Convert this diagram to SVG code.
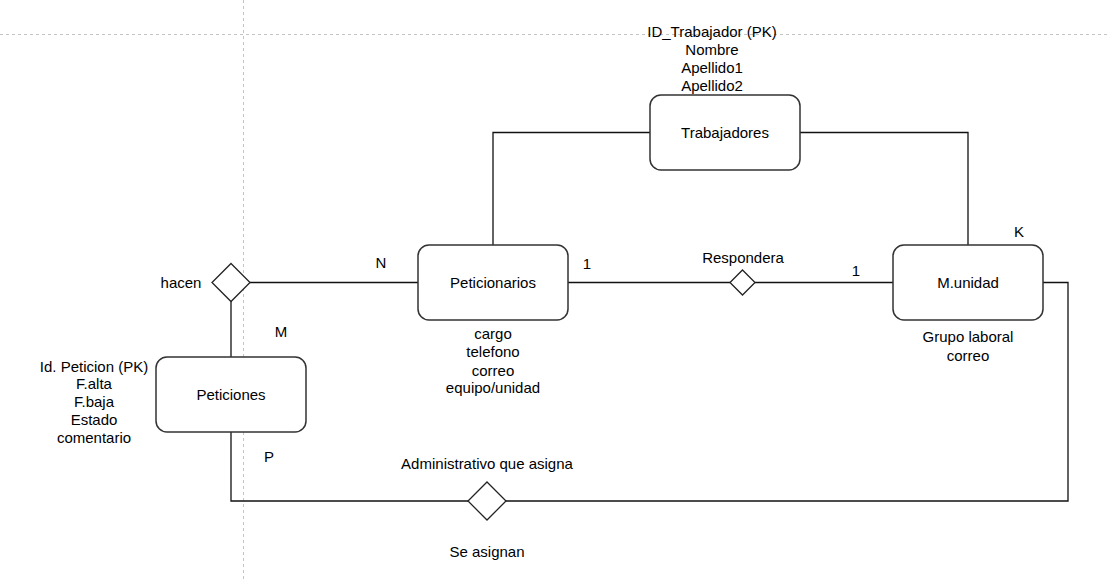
<svg xmlns="http://www.w3.org/2000/svg" width="1110" height="579" viewBox="0 0 1110 579">
<style>
text{font-family:"Liberation Sans",Arial,sans-serif;font-size:15px;fill:#000;text-anchor:middle;dominant-baseline:central}
.ent{fill:#fff;stroke:#333;stroke-width:1.5}
.rel{fill:#fff;stroke:#222;stroke-width:1.3}
.con path{fill:none;stroke:#111;stroke-width:1.3}
.guide{stroke:#c4c4c4;stroke-width:1;stroke-dasharray:3 3}
</style>
<rect width="1110" height="579" fill="#fff"/>
<g id="guides">
<line class="guide" x1="0" y1="34.5" x2="1110" y2="34.5"/>
<line class="guide" x1="243.5" y1="0" x2="243.5" y2="579"/>
</g>
<g class="con" id="connectors">
<path d="M250 282.5H418"/>
<path d="M231 301V357"/>
<path d="M493 245V132.5H650"/>
<path d="M800 132.5H968V245"/>
<path d="M568 282.5H730"/>
<path d="M755 282.5H893"/>
<path d="M231 432V501H468"/>
<path d="M506 501H1068V282.5H1043"/>
</g>
<g id="trabajadores">
<rect class="ent" x="650" y="95" width="150" height="75" rx="11"/>
<text x="725" y="132.5">Trabajadores</text>
<text x="712" y="31">ID_Trabajador (PK)</text>
<text x="712" y="49">Nombre</text>
<text x="712" y="67">Apellido1</text>
<text x="712" y="85">Apellido2</text>
</g>
<g id="peticionarios">
<rect class="ent" x="418" y="245" width="150" height="75" rx="11"/>
<text x="493" y="282.5">Peticionarios</text>
<text x="493" y="333">cargo</text>
<text x="493" y="351">telefono</text>
<text x="493" y="370">correo</text>
<text x="493" y="387">equipo/unidad</text>
</g>
<g id="munidad">
<rect class="ent" x="893" y="245" width="150" height="75" rx="11"/>
<text x="968" y="282.5">M.unidad</text>
<text x="968" y="336">Grupo laboral</text>
<text x="968" y="355">correo</text>
</g>
<g id="peticiones">
<rect class="ent" x="156" y="357" width="150" height="75" rx="11"/>
<text x="231" y="394.5">Peticiones</text>
<text x="94" y="366">Id. Peticion (PK)</text>
<text x="94" y="383">F.alta</text>
<text x="94" y="401">F.baja</text>
<text x="94" y="419.5">Estado</text>
<text x="94" y="437">comentario</text>
</g>
<g id="hacen">
<polygon class="rel" points="231,263.5 250,282.5 231,301.5 212,282.5"/>
<text x="181" y="282.5">hacen</text>
</g>
<g id="respondera">
<polygon class="rel" points="742.5,270 755,282.5 742.5,295 730,282.5"/>
<text x="743" y="257">Respondera</text>
</g>
<g id="seasignan">
<polygon class="rel" points="487,482 506,501 487,520 468,501"/>
<text x="487" y="463">Administrativo que asigna</text>
<text x="487" y="551">Se asignan</text>
</g>
<g id="labels">
<text x="381" y="262.5">N</text>
<text x="281" y="331.5">M</text>
<text x="269" y="456">P</text>
<text x="587" y="263">1</text>
<text x="856" y="270">1</text>
<text x="1019" y="231.5">K</text>
</g>
</svg>
